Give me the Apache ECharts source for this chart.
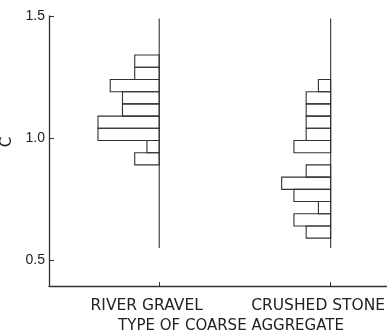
<!DOCTYPE html>
<html>
<head>
<meta charset="utf-8">
<script src="https://cdn.jsdelivr.net/npm/echarts@6/dist/echarts.min.js"></script>
<style>
  html, body { margin: 0; padding: 0; background: #fff; }
  #chart { width: 387px; height: 333px; }
</style>
</head>
<body>
<div id="chart"></div>
<script>
// Frequency of C per aggregate type, binned in steps of 0.05
const categories = ['RIVER GRAVEL', 'CRUSHED STONE'];
const binWidth = 0.05;

// lower bin edges (bottom to top) and number of specimens in each bin
const gravelBinLow = [0.89, 0.94, 0.99, 1.04, 1.09, 1.14, 1.19, 1.24, 1.29];
const gravelCounts = [2, 1, 5, 5, 3, 3, 4, 2, 2];

const stoneBinLow = [0.59, 0.64, 0.69, 0.74, 0.79, 0.84, 0.89, 0.94, 0.99, 1.04, 1.09, 1.14, 1.19];
const stoneCounts = [2, 3, 1, 3, 4, 2, 0, 3, 2, 2, 2, 2, 1];

const yTicks = [0.5, 1.0, 1.5];

// extent of each category's baseline on the C scale
const baselineTop = 1.49;
const baselineBottom = 0.55;

// horizontal placement of each category baseline (in count units)
const categoryX = [9, 23];

const ink = '#333';
const textInk = '#222';

function binData(lows, counts, base) {
  return lows.map((lo, i) => [lo, counts[i], base]);
}

function renderBin(params, api) {
  const lo = api.value(0);
  const n = api.value(1);
  const base = api.value(2);
  if (!n) return null;
  const p0 = api.coord([base - n, lo + binWidth]);
  const p1 = api.coord([base, lo]);
  return {
    type: 'rect',
    shape: { x: p0[0], y: p0[1], width: p1[0] - p0[0], height: p1[1] - p0[1] },
    style: { fill: 'none', stroke: ink, lineWidth: 1.1 }
  };
}

const chart = echarts.init(document.getElementById('chart'), null, { renderer: 'canvas' });

chart.setOption({
  animation: false,
  backgroundColor: '#fff',
  grid: { left: 49, right: 0, top: 16, bottom: 47, outerBoundsMode: 'none', containLabel: false },
  xAxis: {
    type: 'value',
    min: 0,
    max: 27.6,
    splitLine: { show: false },
    axisLine: { show: true, lineStyle: { color: ink, width: 1.3 } },
    axisTick: { show: true, inside: true, length: 4, customValues: categoryX, lineStyle: { color: ink } },
    axisLabel: {
      customValues: categoryX,
      formatter: v => categories[categoryX.indexOf(v)] || '',
      margin: 12,
      padding: [0, 25, 0, 0],
      color: textInk,
      fontFamily: 'DejaVu Sans',
      fontSize: 15.5
    },
    name: 'TYPE OF COARSE AGGREGATE',
    nameLocation: 'middle',
    nameGap: 30,
    nameTextStyle: { color: textInk, fontFamily: 'DejaVu Sans', fontSize: 15, padding: [0, 0, 0, 26] }
  },
  yAxis: {
    type: 'value',
    min: 0.394,
    max: 1.5,
    splitLine: { show: false },
    axisLine: { show: true, lineStyle: { color: ink, width: 1.3 } },
    axisTick: { show: true, inside: true, length: 5, customValues: yTicks, lineStyle: { color: ink } },
    axisLabel: {
      customValues: yTicks,
      formatter: v => v.toFixed(1),
      margin: 4,
      color: textInk,
      fontFamily: 'Liberation Sans',
      fontSize: 14
    },
    name: 'C',
    nameLocation: 'middle',
    nameRotate: 90,
    nameGap: 20,
    nameTextStyle: { color: textInk, fontFamily: 'DejaVu Sans', fontSize: 15, padding: [0, 0, 0, 18] }
  },
  series: [
    {
      type: 'line',
      data: [[categoryX[0], baselineBottom], [categoryX[0], baselineTop]],
      symbol: 'none',
      lineStyle: { color: ink, width: 1.1 },
      silent: true
    },
    {
      type: 'line',
      data: [[categoryX[1], baselineBottom], [categoryX[1], baselineTop]],
      symbol: 'none',
      lineStyle: { color: ink, width: 1.1 },
      silent: true
    },
    {
      type: 'custom',
      renderItem: renderBin,
      data: binData(gravelBinLow, gravelCounts, categoryX[0]),
      silent: true
    },
    {
      type: 'custom',
      renderItem: renderBin,
      data: binData(stoneBinLow, stoneCounts, categoryX[1]),
      silent: true
    }
  ]
});
</script>
</body>
</html>
